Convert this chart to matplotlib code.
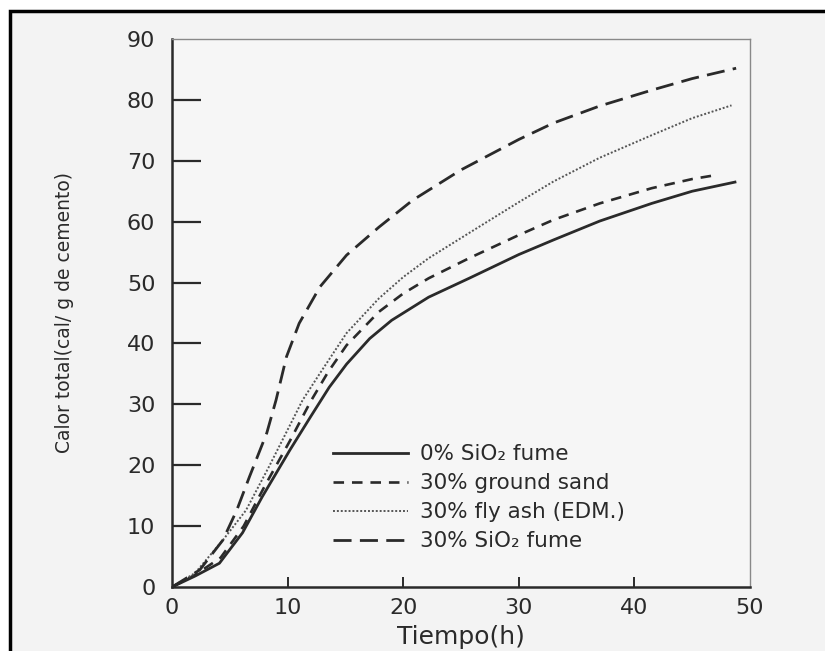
import matplotlib
matplotlib.use('Agg')
import matplotlib.pyplot as plt
from matplotlib.patches import Rectangle

# curves (time in h, heat in cal/g cement)
x_ref = [0, 2, 4.1, 6.1, 7.8, 10.2, 12, 13.6, 15.1, 17.1, 19, 22.2, 25.7, 30, 33, 37, 41.5, 45, 48.7]
y_ref = [0, 1.8, 3.9, 8.9, 14.8, 22.5, 28, 32.8, 36.6, 40.8, 43.8, 47.6, 50.7, 54.6, 57, 60.1, 63, 65, 66.5]

x_sand = [0, 2, 4.2, 6.2, 8, 10.2, 12, 13.5, 15.1, 17.9, 20, 22.2, 25.7, 30, 33, 37, 41.5, 45, 47.2]
y_sand = [0, 2, 4.8, 10, 16.5, 24, 30.5, 35.3, 39.7, 45.2, 48.2, 50.7, 54, 57.8, 60.3, 63, 65.5, 67, 67.7]

x_fly = [0, 2, 4.4, 6.4, 8.4, 11.3, 12.8, 15.1, 17.9, 20, 22.2, 26.6, 30, 33, 37, 41.5, 45, 48.4]
y_fly = [0, 2.3, 7.7, 12.6, 19.8, 30.7, 35.1, 41.7, 47.4, 50.9, 54, 59.2, 63.2, 66.6, 70.5, 74.2, 77, 79.1]

x_sio2 = [0, 2.4, 4.4, 5.6, 6.7, 8.2, 9.0, 9.9, 11, 12.8, 15.1, 17.9, 20.8, 25, 30, 33, 37, 41.5, 45, 48.8]
y_sio2 = [0, 2.8, 7.7, 12.6, 18.1, 25.3, 30.7, 37.8, 43.3, 49.3, 54.5, 59.1, 63.5, 68.5, 73.5, 76.2, 79, 81.6, 83.5, 85.2]

labels = ['0% SiO₂ fume', '30% ground sand', '30% fly ash (EDM.)', '30% SiO₂ fume']

ink = '#2a2a2a'

fig = plt.figure(figsize=(8.25, 6.51), dpi=100, facecolor='white')
# grey scanned page with black border, in a background axes
bg = fig.add_axes([0, 0, 1, 1], zorder=-5)
bg.set_axis_off()
bg.add_patch(Rectangle((10/825, -0.01), 1.0, 1 - 11/651 + 0.01, transform=bg.transAxes,
                       facecolor='#f3f3f3', edgecolor='black', linewidth=2.5, clip_on=False))

ax = fig.add_axes([172/825, 1 - 587/651, 578/825, 548/651])
ax.set_facecolor('#f6f6f6')

ax.plot(x_ref, y_ref, color=ink, lw=2.0, ls='-', label=labels[0])
ax.plot(x_sand, y_sand, color=ink, lw=1.9, ls=(0, (4, 3)), label=labels[1])
ax.plot(x_fly, y_fly, color='#555555', lw=1.4, ls=(0, (1, 1)), label=labels[2])
ax.plot(x_sio2, y_sio2, color=ink, lw=2.0, ls=(0, (6.5, 3)), label=labels[3])

ax.set_xlim(0, 50)
ax.set_ylim(0, 90)
ax.set_xticks(range(0, 51, 10))
ax.set_yticks(range(0, 91, 10))

for s in ['left', 'bottom']:
    ax.spines[s].set_linewidth(1.8)
    ax.spines[s].set_color(ink)
for s in ['top', 'right']:
    ax.spines[s].set_linewidth(1.0)
    ax.spines[s].set_color('#888888')

ax.tick_params(axis='y', direction='in', length=21, width=1.6, pad=12,
               labelsize=16, colors=ink)
ax.tick_params(axis='x', direction='in', length=7, width=1.4, pad=8,
               labelsize=16, colors=ink)
# no tick marks on the spine ends
for t in ax.yaxis.get_major_ticks()[::9]:
    t.tick1line.set_visible(False)
for t in ax.xaxis.get_major_ticks()[::5]:
    t.tick1line.set_visible(False)

ax.set_xlabel('Tiempo(h)', fontsize=18, color=ink, labelpad=5)
ax.set_ylabel('Calor total(cal/ g de cemento)', fontsize=13.5, color=ink, labelpad=38)

leg = ax.legend(loc='lower left', bbox_to_anchor=(0.245, 0.03), frameon=False,
                fontsize=15.5, handlelength=3.5, handletextpad=0.55, labelspacing=0.42)
for t in leg.get_texts():
    t.set_color(ink)

plt.savefig('out.png', dpi=100, facecolor=fig.get_facecolor())
